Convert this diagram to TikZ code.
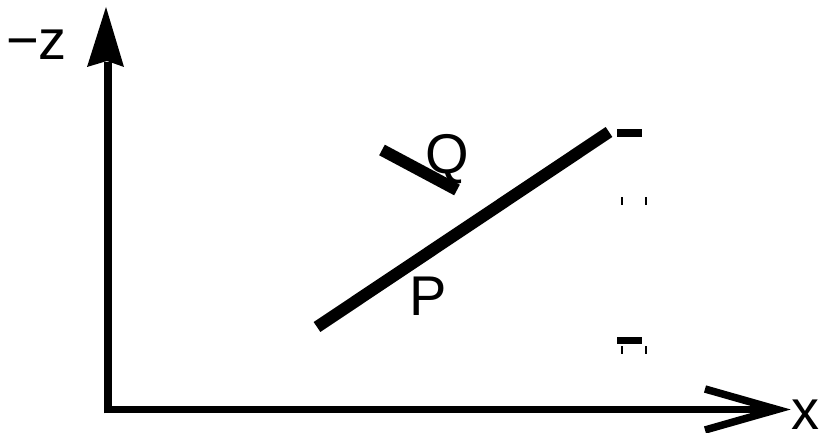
\documentclass[tikz,border=0pt]{standalone}
\usepackage{fontspec}
\setmainfont{Liberation Sans}
\begin{document}
\begin{tikzpicture}[x=1pt, y=-1pt,
    axis/.style={line width=7.5pt},
    segment/.style={line width=12pt},
    lbl/.style={font=\fontsize{56}{60}\selectfont, inner sep=0pt, anchor=base west},
    tick/.style={line width=2pt}]
    \useasboundingbox (0,0) rectangle (822,433);

    \coordinate (origin) at (108,409.5);
    \coordinate (ztop) at (108,62);
    \coordinate (xend) at (772,409.5);

    % Achsen
    \draw[axis] (104,409.5) -- (xend);
    \draw[axis] (origin) ++(0,3.75) -- (ztop);
    \fill (106,7) -- (124,67) -- (107,61) -- (87,67) -- cycle;
    \draw[axis, line join=miter] (705,389) -- (777,409.5) -- (705,430);

    % Strecke PQ und Lot
    \coordinate (a) at (317,327);
    \coordinate (b) at (609,132);
    \coordinate (q1) at (382,150);
    \coordinate (q2) at (457,190);
    \draw[segment] (a) -- (b);
    \draw[segment] (q1) -- (q2);

    % Marken rechts
    \fill (617,129) rectangle (642,137);
    \fill (617,337) rectangle (642,344);
    \draw[tick] (622,197) -- (622,205);
    \draw[tick] (646,197) -- (646,205);
    \draw[tick] (622,346) -- (622,354);
    \draw[tick] (646,346) -- (646,354);

    \node[lbl] (zlabel) at (6,60) {−z};
    \node[lbl] (xlabel) at (791,429) {x};
    \node[lbl] (plabel) at (409,315) {P};
    \node[lbl] (qlabel) at (425,173) {Q};
\end{tikzpicture}
\end{document}
